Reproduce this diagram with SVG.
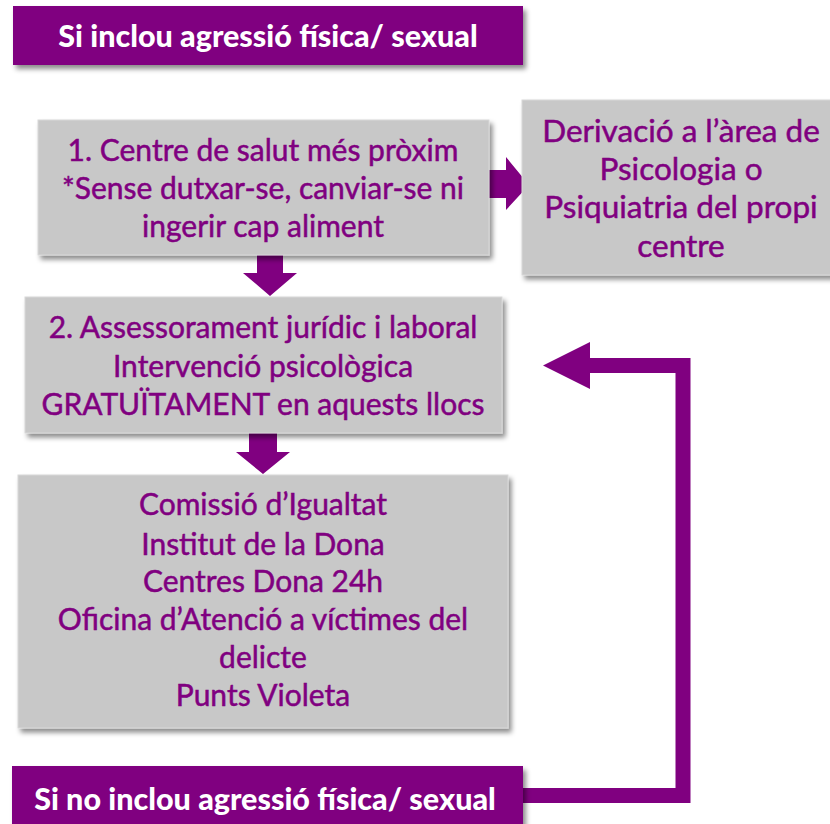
<svg xmlns="http://www.w3.org/2000/svg" width="830" height="824" viewBox="0 0 830 824">
<defs>
<filter id="sh" x="-10%" y="-10%" width="120%" height="130%">
<feDropShadow dx="3" dy="4" stdDeviation="2.5" flood-color="#000" flood-opacity="0.45"/>
</filter>
<style>
.box{fill:#c8c8c8;stroke:#d8d8d8;stroke-width:1;filter:url(#sh)}
.ban{fill:#800080;filter:url(#sh)}
.t{font-family:"Lato","Open Sans",sans-serif;font-size:30px;fill:#800080;stroke:#800080;stroke-width:0.5;text-anchor:middle}
.tr{font-size:31.5px}
.bt{font-family:"Lato","Open Sans",sans-serif;font-weight:900;font-size:30.5px;fill:#fff;text-anchor:middle}
.arr{fill:#800080}
.ln{fill:none;stroke:#800080;stroke-width:15;stroke-linejoin:miter}
</style>
</defs>
<g id="connectors">
<polygon class="arr" points="487,170 506,170 506,157 529,185 506,210 506,198 487,198"/>
<polygon class="arr" points="257,254 283,254 283,273 297,273 270,296 243,273 257,273"/>
<polygon class="arr" points="249,433 277,433 277,452 290,452 263,474 236,452 249,452"/>
<polyline class="ln" points="523,795.5 683,795.5 683,365.5 588,365.5"/>
<polygon class="arr" points="590,342 590,389 543,365.5"/>
</g>
<g id="top-banner">
<rect class="ban" x="13" y="6" width="510" height="59"/>
<text class="bt" x="268" y="47">Si inclou agressió física/ sexual</text>
</g>
<g id="node1">
<rect class="box" x="38" y="120" width="451" height="135"/>
<text class="t" x="263" y="161">1. Centre de salut més pròxim</text>
<text class="t" x="263" y="199">*Sense dutxar-se, canviar-se ni</text>
<text class="t" x="263" y="237">ingerir cap aliment</text>
</g>
<g id="node-right">
<rect class="box" x="522" y="100" width="320" height="175"/>
<text class="t tr" x="681" y="142">Derivació a l’àrea de</text>
<text class="t tr" x="681" y="180">Psicologia o</text>
<text class="t tr" x="681" y="218">Psiquiatria del propi</text>
<text class="t tr" x="681" y="257">centre</text>
</g>
<g id="node2">
<rect class="box" x="25" y="297" width="477" height="136"/>
<text class="t" x="263" y="338">2. Assessorament jurídic i laboral</text>
<text class="t" x="263" y="377">Intervenció psicològica</text>
<text class="t" x="263" y="415">GRATUÏTAMENT en aquests llocs</text>
</g>
<g id="node3">
<rect class="box" x="18" y="475" width="490" height="253"/>
<text class="t" x="263" y="515">Comissió d’Igualtat</text>
<text class="t" x="263" y="555">Institut de la Dona</text>
<text class="t" x="263" y="592">Centres Dona 24h</text>
<text class="t" x="263" y="630">Oficina d’Atenció a víctimes del</text>
<text class="t" x="263" y="668">delicte</text>
<text class="t" x="263" y="706">Punts Violeta</text>
</g>
<g id="bottom-banner">
<rect class="ban" x="12" y="766" width="511" height="70"/>
<text class="bt" x="265" y="810">Si no inclou agressió física/ sexual</text>
</g>
</svg>
